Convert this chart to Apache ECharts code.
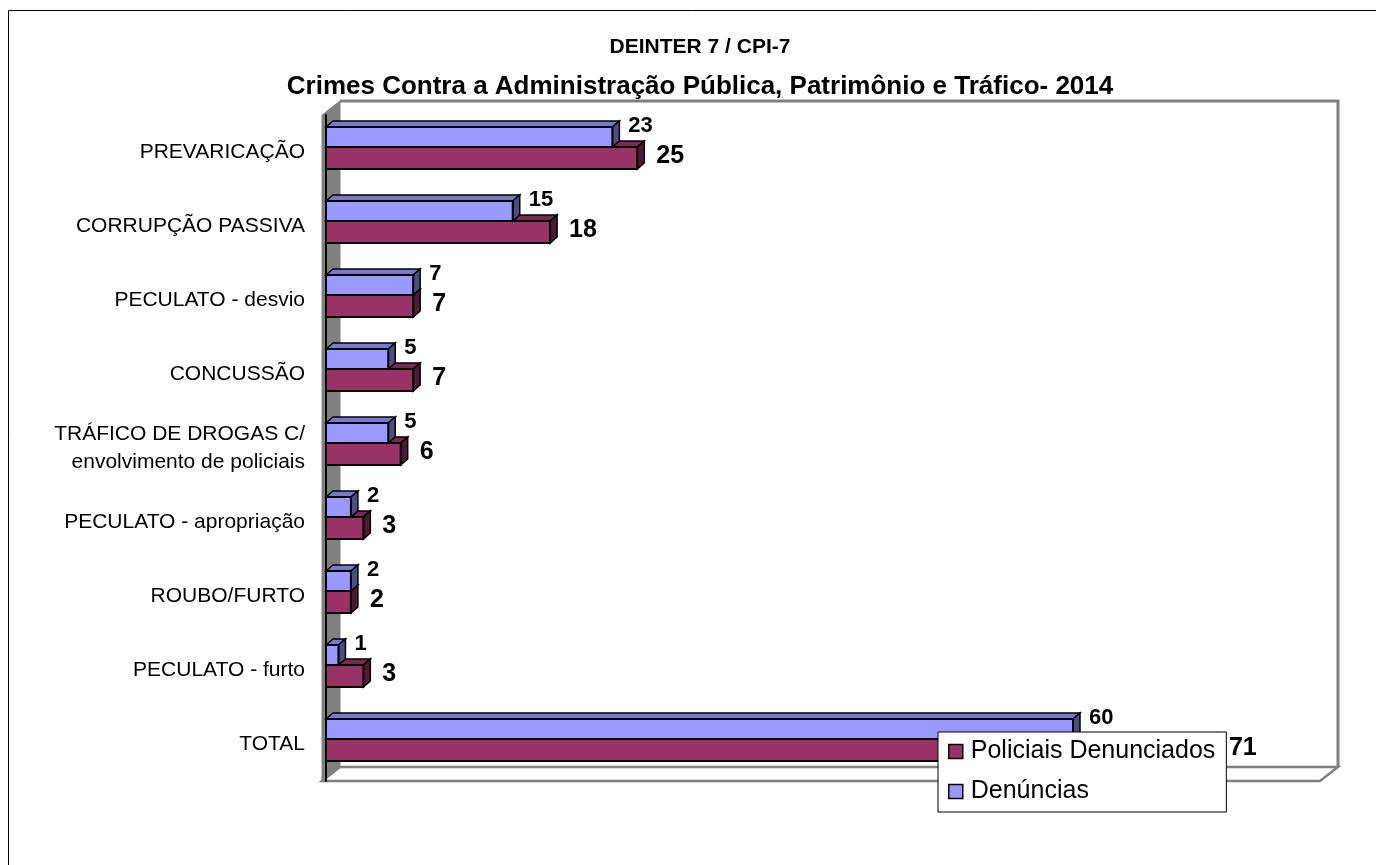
<!DOCTYPE html>
<html>
<head>
<meta charset="utf-8">
<script src="https://cdn.jsdelivr.net/npm/echarts@6/dist/echarts.min.js"></script>
<style>
    html, body {margin: 0; padding: 0; background: #fff;}
    #chart_crimes {width: 1376px; height: 865px;}
</style>
</head>
<body>
<div id="chart_crimes"></div>
<script>
var titleLines = ['DEINTER 7 / CPI-7', 'Crimes Contra a Administração Pública, Patrimônio e Tráfico- 2014'];
var categories = [
    'PREVARICAÇÃO',
    'CORRUPÇÃO PASSIVA',
    'PECULATO - desvio',
    'CONCUSSÃO',
    'TRÁFICO DE DROGAS C/\nenvolvimento de policiais',
    'PECULATO - apropriação',
    'ROUBO/FURTO',
    'PECULATO - furto',
    'TOTAL'
];
var policiais = [25, 18, 7, 7, 6, 3, 2, 3, 71];
var denuncias = [23, 15, 7, 5, 5, 2, 2, 1, 60];
var seriesNames = ['Policiais Denunciados', 'Denúncias'];

var font = 'Liberation Sans, Arial, sans-serif';
var depthX = 7, depthY = -6;

// one 3d box per category, excel style
function boxRenderer(colors, topF, botF, labelSize, labelDx, labelDy) {
    return function (params, api) {
        var v = api.value(0), c = api.value(1);
        var p0 = api.coord([0, c]);
        var p1 = api.coord([v, c]);
        var bw = api.size([0, 1])[1];
        var top = p1[1] + bw * topF, bot = p1[1] + bw * botF;
        var x0 = p0[0], x1 = p1[0];
        var edge = {stroke: '#000', lineWidth: 1.5};
        return {
            type: 'group',
            children: [
                {type: 'polygon', shape: {points: [[x0, top], [x0 + depthX, top + depthY], [x1 + depthX, top + depthY], [x1, top]]},
                    style: Object.assign({fill: colors.top}, edge)},
                {type: 'polygon', shape: {points: [[x1, top], [x1 + depthX, top + depthY], [x1 + depthX, bot + depthY], [x1, bot]]},
                    style: Object.assign({fill: colors.side}, edge)},
                {type: 'rect', shape: {x: x0, y: top, width: x1 - x0, height: bot - top},
                    style: {fill: colors.front, stroke: '#000', lineWidth: 2}},
                {type: 'text', x: x1 + labelDx, y: p1[1] + labelDy,
                    style: {text: String(v), fill: '#000', font: 'bold ' + labelSize + 'px ' + font, verticalAlign: 'middle'}}
            ]
        };
    };
}

// side wall, back wall and floor of the 3d plot
function frameRenderer(params, api) {
    var cs = params.coordSys;
    var x0 = cs.x - 4, y0 = cs.y, y1 = cs.y + cs.height, x1 = cs.x + cs.width - 2;
    var dx = 18, dy = -14;
    var gray = '#808080';
    return {
        type: 'group',
        children: [
            {type: 'polygon', shape: {points: [[x0, y0], [x0 + dx, y0 + dy], [x0 + dx, y1 + dy], [x0, y1]]},
                style: {fill: gray, stroke: gray, lineWidth: 1}},
            {type: 'polygon', shape: {points: [[x0, y1], [x0 + dx, y1 + dy], [x1 + dx, y1 + dy], [x1, y1]]},
                style: {fill: '#fff', stroke: gray, lineWidth: 2.5}},
            {type: 'polyline', shape: {points: [[x0 + dx, y0 + dy], [x1 + dx, y0 + dy], [x1 + dx, y1 + dy]]},
                style: {fill: null, stroke: gray, lineWidth: 3}}
        ]
    };
}

var option = {
    backgroundColor: '#fff',
    animation: false,
    title: {
        text: '{a|' + titleLines[0] + '}\n{b|' + titleLines[1] + '}',
        left: 700,
        top: 27,
        padding: 0,
        textAlign: 'center',
        textStyle: {
            fontFamily: font,
            fontWeight: 'bold',
            color: '#000',
            rich: {
                a: {fontFamily: font, fontWeight: 'bold', fontSize: 21, lineHeight: 40, color: '#000'},
                b: {fontFamily: font, fontWeight: 'bold', fontSize: 26, lineHeight: 40, color: '#000'}
            }
        }
    },
    graphic: [{
        type: 'rect',
        shape: {x: 8.5, y: 10.5, width: 1400, height: 900},
        style: {fill: null, stroke: '#000', lineWidth: 1}
    }],
    grid: {left: 326, right: 54, top: 115, bottom: 84},
    xAxis: {
        type: 'value',
        min: 0,
        max: 80,
        show: false,
        splitLine: {show: false}
    },
    yAxis: {
        type: 'category',
        data: categories,
        inverse: true,
        offset: 4,
        z: 3,
        axisLine: {lineStyle: {color: '#000', width: 2}},
        axisTick: {length: 12, lineStyle: {color: '#808080', width: 2}},
        axisLabel: {margin: 17, fontFamily: font, fontSize: 21, lineHeight: 28, color: '#000'}
    },
    legend: {
        data: seriesNames,
        orient: 'vertical',
        left: 938,
        top: 732,
        padding: [7, 11, 8, 10],
        itemGap: 15,
        itemWidth: 14,
        itemHeight: 14,
        icon: 'rect',
        backgroundColor: '#fff',
        borderColor: '#000',
        borderWidth: 1,
        z: 10,
        itemStyle: {borderColor: '#000', borderWidth: 1.5},
        textStyle: {fontFamily: font, fontSize: 25, color: '#000', padding: [0, 0, 0, 3]}
    },
    series: [
        {
            type: 'custom',
            name: 'frame',
            z: 1,
            silent: true,
            renderItem: frameRenderer,
            data: [[0, 0]],
            encode: {x: 0, y: 1}
        },
        {
            type: 'custom',
            name: seriesNames[0],
            z: 2,
            itemStyle: {color: '#993366'},
            renderItem: boxRenderer({front: '#993366', top: '#7A2952', side: '#4D1A33'}, -5 / 74, 17 / 74, 25, 19, 4),
            data: policiais.map(function (v, i) { return [v, i]; }),
            encode: {x: 0, y: 1}
        },
        {
            type: 'custom',
            name: seriesNames[1],
            z: 3,
            itemStyle: {color: '#9999FF'},
            renderItem: boxRenderer({front: '#9999FF', top: '#7A7ACC', side: '#4D4D80'}, -25 / 74, -5 / 74, 22, 16, -26),
            data: denuncias.map(function (v, i) { return [v, i]; }),
            encode: {x: 0, y: 1}
        }
    ]
};

var chart_crimes = echarts.init(document.getElementById('chart_crimes'));
chart_crimes.setOption(option);
</script>
</body>
</html>
